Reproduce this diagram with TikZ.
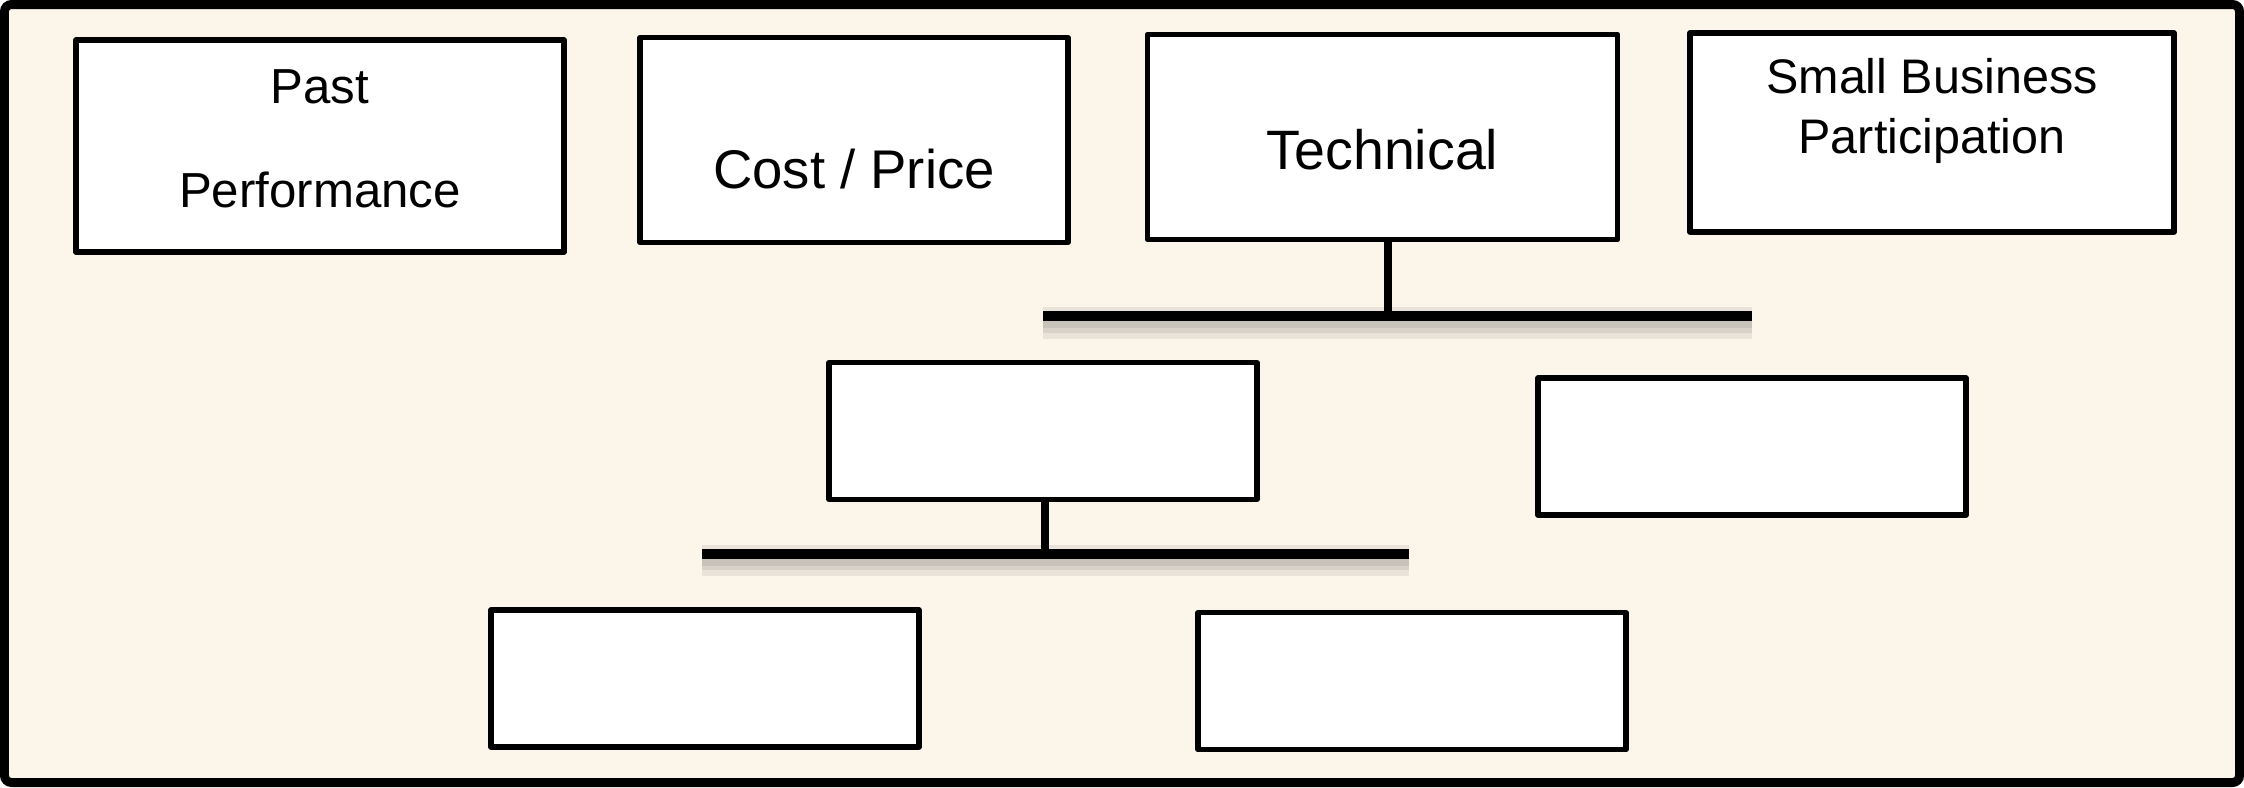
\documentclass[tikz,border=0pt]{standalone}
\usepackage{fontspec}
\setmainfont{Liberation Sans}
\usepackage{xcolor}
\usepackage{tikz}
\definecolor{paper}{RGB}{251,245,234}

\begin{document}
\begin{tikzpicture}[
    box/.style={draw, fill=white, line width=1.5pt, line join=round, inner sep=0pt, minimum width=4.28cm, minimum height=1.37cm},
    txt/.style={anchor=base, inner sep=0pt},
    bar/.style={line width=2.8pt},
    stem/.style={line width=2.2pt},
    barshadow/.style={black, opacity=0.07}]

    \useasboundingbox (0,0) rectangle (22.44,7.87);
    \draw[line width=0.09cm, fill=paper, rounded corners=2pt] (0.045,0.045) rectangle (22.395,7.825);

    % Evaluation factors
    \node[box, minimum width=4.88cm, minimum height=2.12cm] (past) at (3.20,6.41) {};
    \node[box, minimum height=2.05cm] (cost) at (8.54,6.47) {};
    \node[box, minimum width=4.70cm, minimum height=2.05cm] (tech) at (13.825,6.50) {};
    \node[box, minimum width=4.84cm, minimum height=1.99cm] (sbp) at (19.32,6.546) {};

    \node[txt, font=\fontsize{14}{17}\selectfont] (pastA) at (past |- 0,6.84) {Past};
    \node[txt, font=\fontsize{14}{17}\selectfont] (pastB) at (past |- 0,5.80) {Performance};
    \node[txt, font=\fontsize{15.5}{19}\selectfont] (costA) at (cost |- 0,5.99) {Cost / Price};
    \node[txt, font=\fontsize{15.8}{19}\selectfont] (techA) at (tech |- 0,6.18) {Technical};
    \node[txt, font=\fontsize{13.8}{16}\selectfont] (sbpA) at (sbp |- 0,6.94) {Small Business};
    \node[txt, font=\fontsize{13.8}{16}\selectfont] (sbpB) at (sbp |- 0,6.34) {Participation};

    % Technical subfactors
    \node[box] (midL) at (10.43,3.56) {};
    \node[box] (midR) at (17.52,3.405) {};
    \node[box] (botL) at (7.05,1.086) {};
    \node[box] (botR) at (14.12,1.058) {};

    % Tree bars
    \coordinate (t1) at ([xshift=0.055cm]tech.south);
    \coordinate (j1) at ([yshift=-0.74cm]t1);
    \coordinate (b1L) at (midL |- j1);
    \coordinate (b1R) at (midR |- j1);
    \coordinate (t2) at ([xshift=0.02cm]midL.south);
    \coordinate (j2) at ([yshift=-0.515cm]t2);
    \coordinate (b2L) at ([xshift=-0.03cm]botL |- j2);
    \coordinate (b2R) at ([xshift=-0.03cm]botR |- j2);

    \foreach \w/\d in {9pt/0.07cm, 6pt/0.06cm, 4pt/0.05cm} {
        \draw[barshadow, line width=\w] ([yshift=-\d]b1L) -- ([yshift=-\d]b1R);
        \draw[barshadow, line width=\w] ([yshift=-\d]b2L) -- ([yshift=-\d]b2R);
    }
    \draw[stem] (t1) -- (j1);
    \draw[stem] (t2) -- (j2);
    \draw[bar] (b1L) -- (b1R);
    \draw[bar] (b2L) -- (b2R);
\end{tikzpicture}
\end{document}
